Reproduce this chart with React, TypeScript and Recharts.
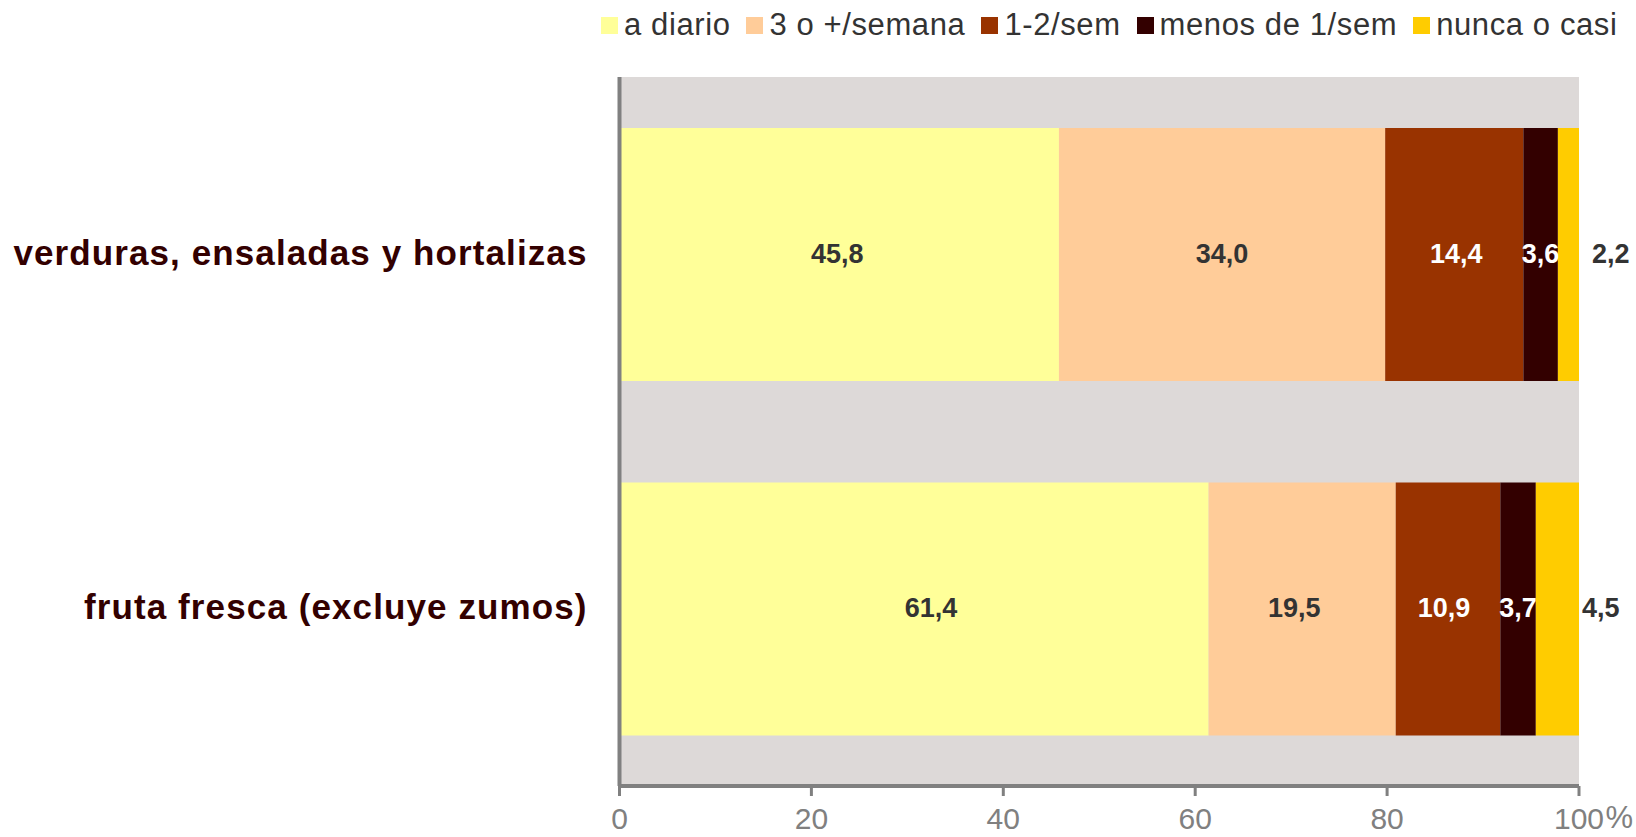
import { BarChart, Bar, XAxis, YAxis, CartesianGrid, Legend, LabelList } from 'recharts';

const categories = ['verduras, ensaladas y hortalizas', 'fruta fresca (excluye zumos)'];
const seriesNames = ['a diario', '3 o +/semana', '1-2/sem', 'menos de 1/sem', 'nunca o casi'];
const aDiario = [45.8, 61.4];
const tresOMas = [34.0, 19.5];
const unoDos = [14.4, 10.9];
const menosDeUno = [3.6, 3.7];
const nunca = [2.2, 4.5];
const xTicks = [0, 20, 40, 60, 80, 100];

const COLORS = ['#FFFF99', '#FFCC99', '#993300', '#330000', '#FFCC00'];
const LABEL_COLORS = ['#333333', '#333333', '#FFFFFF', '#FFFFFF', '#333333'];
// la etiqueta no siempre esta centrada en el tramo
const LABEL_NUDGE = [[-2, 17], [0, -8], [2, -4], [0, 0], [0, 0]];
const FONT = '"Liberation Sans", Arial, sans-serif';

const values = [aDiario, tresOMas, unoDos, menosDeUno, nunca];
const chartData = categories.map((name, i) => {
  const row: { [key: string]: string | number } = { name };
  seriesNames.forEach((s, j) => {
    row[s] = values[j][i];
  });
  return row;
});

const comma = (v: any) => Number(v).toFixed(1).replace('.', ',');

const ValueLabel = (props: any) => {
  const { x, y, width, height, value, index, series } = props;
  // el ultimo tramo lleva la etiqueta fuera de la barra
  const outer = series === 4;
  const cx = outer ? x + width + (index === 0 ? 13 : 3) : x + width / 2 + LABEL_NUDGE[series][index];
  return (
    <text
      x={cx}
      y={y + height / 2 - 1}
      textAnchor={outer ? 'start' : 'middle'}
      dominantBaseline="central"
      fill={LABEL_COLORS[series]}
      fontFamily={FONT}
      fontWeight="bold"
      fontSize={27}
    >
      {comma(value)}
    </text>
  );
};

const LegendRow = ({ payload }: any) => (
  <div style={{ display: 'flex', fontFamily: FONT, fontSize: 31, letterSpacing: 0.6, color: '#333', lineHeight: '34px' }}>
    {(payload || []).map((item: any) => (
      <div key={item.value} style={{ display: 'flex', alignItems: 'center', marginRight: 16 }}>
        <span style={{ width: 17, height: 17, background: item.color, marginRight: 6 }} />
        <span>{item.value}</span>
      </div>
    ))}
  </div>
);

export default function App() {
  return (
    <div style={{ position: 'absolute', left: 0, top: 0, width: 1636, height: 837, background: '#fff' }}>
      <BarChart
        width={1636}
        height={837}
        data={chartData}
        layout="vertical"
        barSize={253}
        margin={{ top: 37, right: 57, left: 0, bottom: 0 }}
      >
        <CartesianGrid horizontal={false} vertical={false} fill="#DDD9D8" />
        <XAxis
          type="number"
          domain={[0, 100]}
          ticks={xTicks}
          height={51}
          axisLine={{ stroke: '#808080', strokeWidth: 4 }}
          tickLine={{ stroke: '#808080', strokeWidth: 3 }}
          tickSize={10}
          tickMargin={12}
          tick={{ fill: '#808080', fontFamily: FONT, fontSize: 30 }}
          interval={0}
          label={{ value: '%', position: 'insideBottomRight', offset: 0, dx: 54, dy: -9, fill: '#808080', fontFamily: FONT, fontSize: 31 }}
        />
        <YAxis
          type="category"
          dataKey="name"
          width={619.5}
          axisLine={{ stroke: '#808080', strokeWidth: 4 }}
          tickLine={false}
          tickMargin={26}
          tick={{ fill: '#330000', fontFamily: FONT, fontWeight: 'bold', fontSize: 35, letterSpacing: 1.1, dy: -2 }}
        />
        <Legend
          verticalAlign="top"
          align="left"
          height={40}
          itemSorter={null}
          content={<LegendRow />}
          wrapperStyle={{ top: 8, left: 601, width: 1035 }}
        />
        {seriesNames.map((s, i) => (
          <Bar key={s} dataKey={s} stackId="a" fill={COLORS[i]} isAnimationActive={false}>
            <LabelList dataKey={s} content={<ValueLabel series={i} />} />
          </Bar>
        ))}
      </BarChart>
    </div>
  );
}
